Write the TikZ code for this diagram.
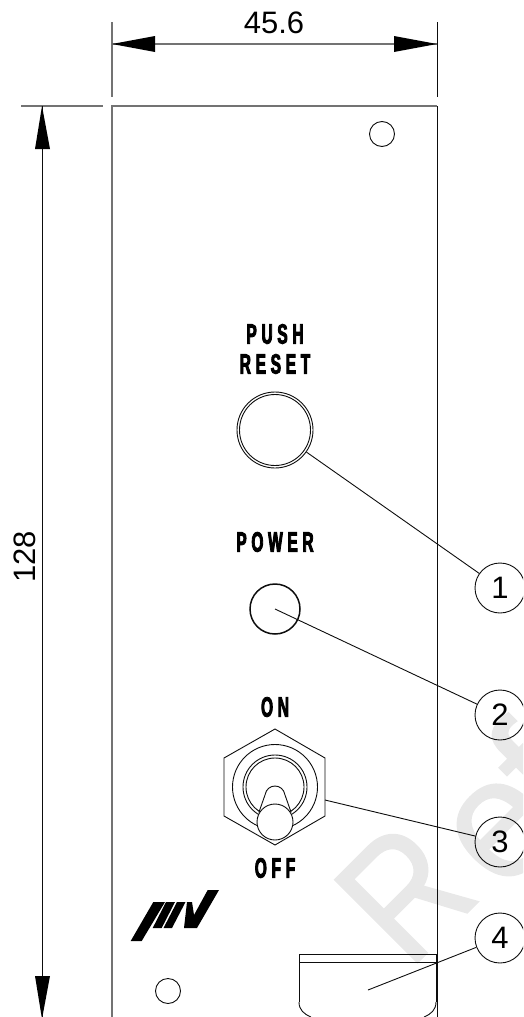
\documentclass[tikz,border=0pt]{standalone}
\usepackage{fontspec}
\setmainfont{Liberation Sans}
\newfontfamily\lab[FakeStretch=0.55,FakeBold=3,LetterSpace=17]{Liberation Sans Bold}
\newfontfamily\wmr[FakeStretch=0.85,FakeBold=1]{Liberation Sans}
\newfontfamily\wmn[FakeBold=1]{Liberation Sans}
\definecolor{lnk}{gray}{0.05}
\definecolor{gl}{gray}{0.45}
\definecolor{wmk}{gray}{0.91}
\tikzset{
  thinline/.style={draw=lnk,line width=0.9pt},
  greyline/.style={draw=gl,line width=1.3pt},
  balloon/.style={circle,draw=lnk,line width=0.9pt,minimum size=50pt,inner sep=0pt,font=\fontsize{31}{31}\selectfont},
  dimtext/.style={inner sep=0pt,font=\fontsize{31}{31}\selectfont},
  plate/.style={inner sep=0pt,font=\lab\fontsize{28}{28}\selectfont},
  hole/.style={circle,draw=lnk,line width=0.9pt,minimum size=25pt,inner sep=0pt},
  tipfill/.style={fill=black,draw=none},
  knob/.style={draw=lnk,line width=0.9pt,fill=white},
  wmark/.style={rotate=45,inner sep=0pt,text=wmk,font=\wmn\fontsize{170}{170}\selectfont},
}
\begin{document}
\begin{tikzpicture}[x=1pt,y=-1pt]
\useasboundingbox (0,0) rectangle (523,1017);
\clip (0,0) rectangle (523,1017);
% watermark
\node[wmark,anchor=base west] (wr) at (409,971) {\wmr R};
\node[wmark] (we) at (503,830) {e};
\node[wmark,anchor=base west] (wf) at (561,833) {f};
% dimensions
\coordinate (dl) at (112,44); \coordinate (dr) at (437,44);
\coordinate (vt) at (42,106); \coordinate (vb) at (42,1019);
\draw[greyline] (112,22) -- (112,97);
\draw[thinline] (437,22) -- (437,97);
\draw[greyline] (21,106) -- (103,106);
\draw[greyline] (dl) -- (dr);
\draw[thinline] (vt) -- (vb);
\fill[tipfill] (dl) -- (155,36) -- (155,52) -- cycle;
\fill[tipfill] (dr) -- (394,36) -- (394,52) -- cycle;
\fill[tipfill] (vt) -- (35,149) -- (50,149) -- cycle;
\fill[tipfill] (vb) -- (35,976) -- (50,976) -- cycle;
\node[dimtext] (w) at (274,23) {45.6};
\node[dimtext,rotate=90] (h) at (24.5,557) {128};
% panel
\draw[greyline] (112,1017) -- (112,106) -- (437,106);
\draw[thinline] (437,106) -- (437,1017);
\node[hole] (h1) at (382,134) {};
\node[hole] (h2) at (168,991) {};
% labels
\node[plate] (push) at (275,334) {PUSH};
\node[plate] (reset) at (275,364) {RESET};
\node[plate] (power) at (275,542) {POWER};
\node[plate] (on) at (275,707) {ON};
\node[plate] (off) at (275,868) {OFF};
% button and lamp
\node[circle,draw=lnk,line width=0.9pt,minimum size=76pt,inner sep=0pt] (btn) at (275,430) {};
\node[circle,draw=lnk,line width=0.9pt,minimum size=71pt,inner sep=0pt] (btni) at (275,430) {};
\node[circle,draw=lnk,line width=1.5pt,minimum size=50pt,inner sep=0pt] (led) at (275,609) {};
% toggle switch
\node[draw=none,minimum size=0pt,inner sep=0pt] (sw) at (275,787) {};
\draw[thinline] (275,729) -- (325,758) -- (325,816) -- (275,845) -- (224,816) -- (224,758) -- cycle;
\draw[thinline] (sw) circle[radius=42.5];
\draw[thinline] (sw) circle[radius=32];
\draw[thinline] (sw) circle[radius=29];
\draw[knob] (259,812) -- (265,795) .. controls (267,783) and (283,783) .. (285,795) -- (291,812) -- cycle;
\draw[knob] (275,822) circle[radius=18];
% tray
\draw[thinline] (299,1002) .. controls (299,1010) and (304,1014) .. (311,1017);
\draw[thinline] (436,1002) .. controls (436,1010) and (431,1014) .. (424,1017);
\draw[thinline] (299,1002) -- (299,954) -- (436,954) -- (436,1002);
\draw[thinline] (299,962) -- (436,962);
% logo
\fill[black] (130.7,941) -- (141.7,941) -- (165,902) -- (153.3,902) -- cycle;
\fill[black] (152.7,928) -- (161.7,928) -- (175,902) -- (166,902) -- cycle;
\fill[black] (163.5,928) -- (172,928) -- (185.5,902) -- (177,902) -- cycle;
\fill[black] (187,902) -- (192,902) -- (194,915) -- (207.7,890) -- (219,890) -- (197,928) -- (184,928) -- cycle;
% balloons
\node[balloon] (b1) at (500,588) {1};
\node[balloon] (b2) at (500,715) {2};
\node[balloon] (b3) at (500,842) {3};
\node[balloon] (b4) at (500,938) {4};
\coordinate (s3) at (325,800);
\coordinate (s4) at (368,990);
\draw[thinline] (btn) -- (b1);
\draw[thinline] (led.center) -- (b2);
\draw[thinline] (s3) -- (b3);
\draw[thinline] (s4) -- (b4);
\end{tikzpicture}
\end{document}
